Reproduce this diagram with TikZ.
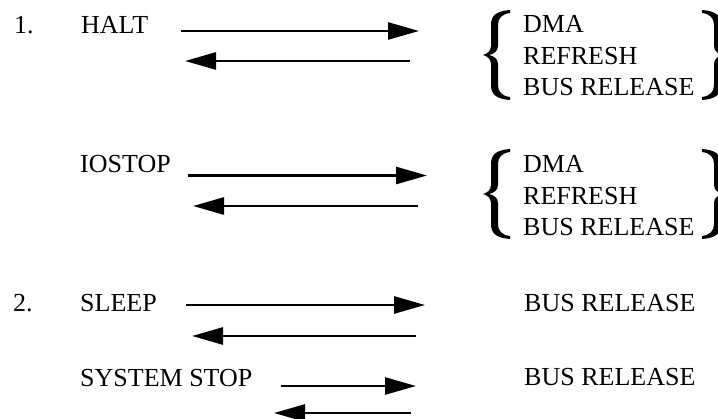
\documentclass[tikz,border=0pt]{standalone}
\usepackage{fontspec}
\setmainfont{Liberation Serif}
\usetikzlibrary{arrows.meta,positioning}
\tikzset{
  every node/.style={font=\fontsize{26}{31}\selectfont, inner sep=0pt},
  cmd/.style={anchor=base west},
  mode/.style={anchor=base west},
  forth/.style={-{Triangle[length=31pt,width=17pt]}, line width=2.7pt},
  curly/.pic={
    \fill (27,-45) .. controls (14,-44) and (8,-40) .. (8,-30) -- (8,-9)
      .. controls (8,-4) and (4,-1) .. (0,0)
      .. controls (4,1) and (8,4) .. (8,9) -- (8,30)
      .. controls (8,40) and (14,44) .. (27,45)
      -- (27,42) .. controls (19,41) and (15,37) .. (15,30) -- (15,9)
      .. controls (15,4) and (11,1) .. (6,0)
      .. controls (11,-1) and (15,-4) .. (15,-9) -- (15,-30)
      .. controls (15,-37) and (19,-41) .. (27,-42) -- cycle;
  },
}

\begin{document}
\begin{tikzpicture}[x=1pt,y=-1pt]
  \useasboundingbox (0,0) rectangle (718,419);
  % Instructions
  \node[cmd] (num1) at (14,34) {1.};
  \node[cmd] (halt) at (81,34) {HALT};
  \node[cmd] (iostop) at (80,173) {IOSTOP};
  \node[cmd] (num2) at (13,312) {2.};
  \node[cmd] (sleep) at (80,312) {SLEEP};
  \node[cmd] (sysstop) at (80,387) {SYSTEM STOP};
  % Grouped modes, one brace pair per group
  \foreach \g/\ymid/\ytop in {A/55/33,B/194/173}{
    \pic at (483,\ymid) {curly};
    \pic[xscale=-1] at (729,\ymid) {curly};
    \foreach \txt [count=\k] in {DMA,REFRESH,BUS RELEASE}
      \node[mode] (mode\g\k) at (523,{\ytop+31.5*(\k-1)}) {\txt};
  }
  \node[mode] (relC) at (524,312) {BUS RELEASE};
  \node[mode] (relD) at (524,386) {BUS RELEASE};
  % Handshake arrows
  \foreach \nm/\yf/\xs/\xe/\yb/\xr/\xl in {
      halt/31/181/419/61/410/185,
      iostop/175.5/188/427/206/418/193,
      sleep/305/186/425/336/416/192,
      sysstop/386/281/416/413/411/274}{
    \coordinate (\nm-s) at (\xs,\yf);
    \coordinate (\nm-e) at (\xe,\yf);
    \coordinate (\nm-r) at (\xr,\yb);
    \coordinate (\nm-l) at (\xl,\yb);
    \draw[forth] (\nm-s) -- (\nm-e);
    \draw[forth] (\nm-r) -- (\nm-l);
  }
\end{tikzpicture}
\end{document}
